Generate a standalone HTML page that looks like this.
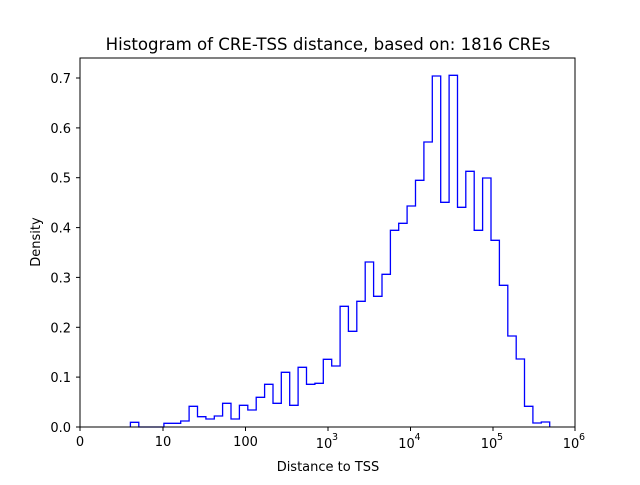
<!DOCTYPE html>
<html><head><meta charset="utf-8"><style>
body{margin:0;background:#fff;}
svg text{font-family:"DejaVu Sans","Liberation Sans",sans-serif;fill:#000;}
</style></head><body>
<svg width="640" height="480" xmlns="http://www.w3.org/2000/svg">
<rect width="640" height="480" fill="#fff"/>
<text x="328" y="50" font-size="16.6" text-anchor="middle">Histogram of CRE-TSS distance, based on: 1816 CREs</text>
<path fill="none" stroke="#0000ff" stroke-width="1.3" d="M130.4 427 V422.3 H138.8 V427 H163.9 V423.3 H180.7 V421 H189.1 V406.3 H197.5 V416.7 H205.9 V419 H214.3 V416 H222.6 V403.3 H231.0 V419 H239.4 V405.3 H247.8 V410 H256.2 V397.3 H264.6 V384.3 H273.0 V403.3 H281.3 V372.3 H289.7 V405.3 H298.1 V367.3 H306.5 V384.3 H314.9 V383.3 H323.3 V359.3 H331.7 V366 H340.1 V306.3 H348.4 V331.3 H356.8 V301.3 H365.2 V262 H373.6 V296.3 H382.0 V274.3 H390.4 V230.3 H398.7 V223.3 H407.1 V206 H415.5 V180.3 H423.9 V142 H432.3 V76 H440.7 V202.3 H449.1 V75.3 H457.5 V207.3 H465.8 V171.3 H474.2 V230.3 H482.6 V178 H491.0 V240.3 H499.4 V285.3 H507.8 V336 H516.2 V359 H524.5 V406.3 H532.9 V423 H541.3 V422 H549.7 V427"/>
<rect x="80" y="58" width="495" height="369" fill="none" stroke="#000" stroke-width="1"/>
<g stroke="#000" stroke-width="1">
<line x1="80" y1="427" x2="80" y2="431"/><line x1="163" y1="427" x2="163" y2="431"/><line x1="245.5" y1="427" x2="245.5" y2="431"/><line x1="328" y1="427" x2="328" y2="431"/><line x1="410.5" y1="427" x2="410.5" y2="431"/><line x1="493" y1="427" x2="493" y2="431"/><line x1="575" y1="427" x2="575" y2="431"/>
<line x1="76" y1="427" x2="80" y2="427"/><line x1="76" y1="377.1" x2="80" y2="377.1"/><line x1="76" y1="327.3" x2="80" y2="327.3"/><line x1="76" y1="277.4" x2="80" y2="277.4"/><line x1="76" y1="227.6" x2="80" y2="227.6"/><line x1="76" y1="177.7" x2="80" y2="177.7"/><line x1="76" y1="127.9" x2="80" y2="127.9"/><line x1="76" y1="78" x2="80" y2="78"/>
</g>
<g font-size="13" text-anchor="middle">
<text x="80" y="446">0</text><text x="163" y="446">10</text><text x="245.5" y="446">100</text>
<text x="324" y="448">10</text><text x="335" y="440" font-size="9.5">3</text>
<text x="406.5" y="448">10</text><text x="417.5" y="440" font-size="9.5">4</text>
<text x="489" y="448">10</text><text x="500" y="440" font-size="9.5">5</text>
<text x="571" y="448">10</text><text x="582" y="440" font-size="9.5">6</text>
</g>
<g font-size="13" text-anchor="end">
<text x="71" y="432">0.0</text><text x="71" y="382.1">0.1</text><text x="71" y="332.3">0.2</text><text x="71" y="282.4">0.3</text><text x="71" y="232.6">0.4</text><text x="71" y="182.7">0.5</text><text x="71" y="132.9">0.6</text><text x="71" y="83">0.7</text>
</g>
<text x="328" y="471" font-size="13" text-anchor="middle">Distance to TSS</text>
<text transform="translate(40,242) rotate(-90)" font-size="13" text-anchor="middle">Density</text>
</svg>
</body></html>
